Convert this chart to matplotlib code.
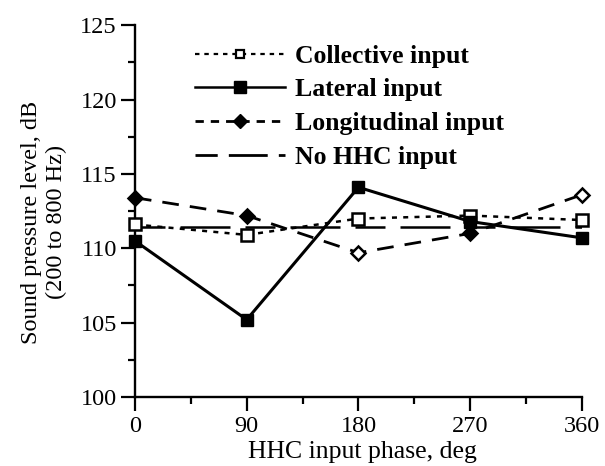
import matplotlib
matplotlib.use("Agg")
import matplotlib.pyplot as plt
from matplotlib.ticker import MultipleLocator
from matplotlib.lines import Line2D

phase = [0, 90, 180, 270, 360]
collective = [111.6, 110.9, 112.0, 112.2, 111.9]
lateral = [110.5, 105.2, 114.1, 111.8, 110.7]
longitudinal = [113.4, 112.2, 109.7, 111.0, 113.6]
no_hhc = [111.4, 111.4, 111.4, 111.4, 111.4]
long_filled = [True, True, False, True, False]

labels = ["Collective input", "Lateral input", "Longitudinal input", "No HHC input"]

plt.rcParams['font.family'] = ['Liberation Serif', 'DejaVu Serif']

fig = plt.figure(figsize=(6.05, 4.66), dpi=100)
ax = fig.add_axes([0.223, 0.148, 0.739, 0.798])

ax.plot(phase, no_hhc, color='black', lw=1.8, dashes=(12, 6, 20, 6), zorder=2)
ax.plot(phase, collective, color='black', lw=1.8, dashes=(2, 2.5), marker='s', ms=8,
        mfc='white', mec='black', mew=1.8, clip_on=False, zorder=3)
ax.plot(phase, lateral, color='black', lw=2.2, marker='s', ms=9, mfc='black', mec='black',
        clip_on=False, zorder=4)
ax.plot(phase, longitudinal, color='black', lw=2.0, dashes=(6, 4), zorder=3)
for x, y, f in zip(phase, longitudinal, long_filled):
    ax.plot([x], [y], marker='D', ms=7, mfc='black' if f else 'white', mec='black', mew=1.8,
            ls='none', clip_on=False, zorder=5)

h = [
    Line2D([], [], color='black', lw=1.6, dashes=(2, 2.2), marker='s', ms=6, mfc='white', mec='black', mew=1.6),
    Line2D([], [], color='black', lw=1.8, marker='s', ms=8, mfc='black', mec='black'),
    Line2D([], [], color='black', lw=2.0, dashes=(3, 2.5), marker='D', ms=7, mfc='black', mec='black'),
    Line2D([], [], color='black', lw=2.0, dashes=(8, 4, 14, 4)),
]
ax.legend(h, labels, loc='upper left', bbox_to_anchor=(0.083, 1.01), frameon=False,
          handlelength=3.5, handletextpad=0.4, labelspacing=0.42,
          prop={'weight': 'bold', 'size': 18.5})

ax.set_xlim(0, 360)
ax.set_ylim(100, 125)
ax.xaxis.set_major_locator(MultipleLocator(90))
ax.xaxis.set_minor_locator(MultipleLocator(45))
ax.yaxis.set_major_locator(MultipleLocator(5))
ax.yaxis.set_minor_locator(MultipleLocator(2.5))
ax.tick_params(which='major', direction='out', length=10, width=1.6, labelsize=17.5, pad=3)
ax.tick_params(axis='x', which='major', pad=4)
ax.tick_params(which='minor', direction='out', length=5, width=1.6)
for s in ['top', 'right']:
    ax.spines[s].set_visible(False)
for s in ['left', 'bottom']:
    ax.spines[s].set_linewidth(1.7)

ax.set_xlabel("HHC input phase, deg", fontsize=18.5, va='top')
ax.xaxis.set_label_coords(0.51, -0.118)
ax.set_ylabel("Sound pressure level, dB\n(200 to 800 Hz)", fontsize=17.5, linespacing=1.25, va='center')
ax.yaxis.set_label_coords(-0.204, 0.47)

fig.savefig("out.png", dpi=100)
